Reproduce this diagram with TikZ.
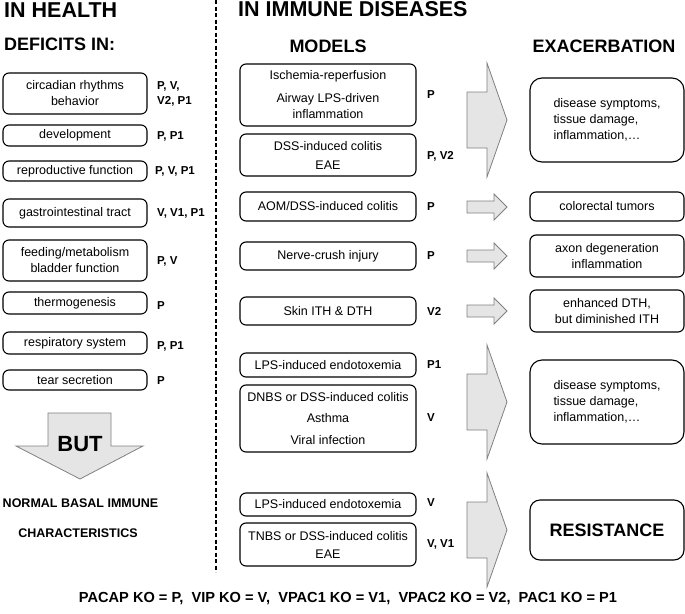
\documentclass[tikz,border=0pt]{standalone}
\usepackage{fontspec}
\setmainfont{Liberation Sans}
\usepackage{tikz}

\begin{document}
\begin{tikzpicture}[x=1pt,y=-1pt,
  txt/.style={font=\fontsize{12.5}{16}\selectfont,align=center},
  card/.style={txt,draw,line width=1.1pt,rounded corners=6pt,inner sep=0pt},
  leftbox/.style={card,minimum width=144pt},
  midbox/.style={card,minimum width=176pt},
  resbox/.style={card,minimum width=154pt},
  ko/.style={font=\fontsize{11.5}{15}\selectfont\bfseries,anchor=west,align=left,inner sep=0pt},
  title/.style={font=\fontsize{21.5}{25}\selectfont\bfseries,inner sep=0pt},
  subtitle/.style={font=\fontsize{18}{22}\selectfont\bfseries,inner sep=0pt},
  blockarrow/.style={fill=black!10,draw=black!50,line width=0.8pt,line join=miter}]
\useasboundingbox (0,0) rectangle (685,613);

% headings
\node[title,anchor=west] (health) at (4,10) {IN HEALTH};
\node[subtitle,anchor=west] (deficits) at (4,44) {DEFICITS IN:};
\node[title,anchor=west] (immune) at (238,9) {IN IMMUNE DISEASES};
\node[subtitle] (models) at (328,46) {MODELS};
\node[subtitle] (exacer) at (604,46) {EXACERBATION};
\draw[line width=1.2pt,dash pattern=on 4pt off 2.5pt] (216,0) -- (216,572);

% deficits in health
\node[leftbox,minimum height=41pt] (circ) at (75,93.5) {circadian rhythms\\behavior};
\node[leftbox,minimum height=21pt] (devel) at (75,135.5) {development};
\node[leftbox,minimum height=20pt] (repro) at (75,171) {reproductive function};
\node[leftbox,minimum height=28pt] (gastro) at (75,213) {gastrointestinal tract};
\node[leftbox,minimum height=41pt] (feed) at (75,260.5) {feeding/metabolism\\bladder function};
\node[leftbox,minimum height=22pt] (thermo) at (75,303) {thermogenesis};
\node[leftbox,minimum height=22pt] (resp) at (75,343) {respiratory system};
\node[leftbox,minimum height=20pt] (tear) at (75,380) {tear secretion};
\node[ko] (kcirc) at (157,94) {P, V,\\V2, P1};
\node[ko] (kdevel) at (157,136) {P, P1};
\node[ko] (krepro) at (155,171) {P, V, P1};
\node[ko] (kgastro) at (157,213) {V, V1, P1};
\node[ko] (kfeed) at (157,261) {P, V};
\node[ko] (kthermo) at (157,306) {P};
\node[ko] (kresp) at (157,346) {P, P1};
\node[ko] (ktear) at (157,381) {P};

% but
\filldraw[blockarrow] (48,413) -- (111,413) -- (111,446) -- (143,446) -- (80,479)
  -- (16,446) -- (48,446) -- cycle;
\node[font=\fontsize{22}{26}\selectfont\bfseries] (but) at (80,444) {BUT};
\node[font=\fontsize{12.5}{16}\selectfont\bfseries] (normal) at (80.5,503) {NORMAL BASAL IMMUNE};
\node[font=\fontsize{12.5}{16}\selectfont\bfseries] (charac) at (78,533) {CHARACTERISTICS};

% models
\node[midbox,minimum height=62pt] (isch) at (328,95) {Ischemia-reperfusion\\[7pt]Airway LPS-driven\\inflammation};
\node[midbox,minimum height=42pt] (dss) at (328,155) {DSS-induced colitis\\[3pt]EAE};
\node[midbox,minimum height=29pt] (aom) at (328,206.5) {AOM/DSS-induced colitis};
\node[midbox,minimum height=28pt] (nerve) at (328,256) {Nerve-crush injury};
\node[midbox,minimum height=28pt] (skin) at (328,311) {Skin ITH \& DTH};
\node[midbox,minimum height=24pt] (lpsa) at (328,365) {LPS-induced endotoxemia};
\node[midbox,minimum height=67pt] (dnbs) at (328,418.5) {DNBS or DSS-induced colitis\\[5.5pt]Asthma\\[5.5pt]Viral infection};
\node[midbox,minimum height=23pt] (lpsb) at (328,504.5) {LPS-induced endotoxemia};
\node[midbox,minimum height=43pt] (tnbs) at (328,544.5) {TNBS or DSS-induced colitis\\[2pt]EAE};
\node[ko] (kisch) at (427,95) {P};
\node[ko] (kdss) at (427,156) {P, V2};
\node[ko] (kaom) at (427,207) {P};
\node[ko] (knerve) at (427,256) {P};
\node[ko] (kskin) at (427,311) {V2};
\node[ko] (klpsa) at (427,365) {P1};
\node[ko] (kdnbs) at (427,418) {V};
\node[ko] (klpsb) at (427,503) {V};
\node[ko] (ktnbs) at (427,544) {V, V1};

% arrows
\foreach \yc in {120,402,530}
  \filldraw[blockarrow] (467,\yc-28) -- (487,\yc-28) -- (487,\yc-57) -- (507,\yc)
    -- (487,\yc+57) -- (487,\yc+28) -- (467,\yc+28) -- cycle;
\foreach \yc in {207,256,311}
  \filldraw[blockarrow] (467,\yc-6) -- (494,\yc-6) -- (494,\yc-13) -- (507,\yc)
    -- (494,\yc+13) -- (494,\yc+6) -- (467,\yc+6) -- cycle;

% outcomes
\node[resbox,rounded corners=12pt,minimum height=84pt,align=left] (sympa) at (607,120) {disease symptoms,\\tissue damage,\\inflammation,\ldots};
\node[resbox,minimum height=29pt] (tumor) at (607,206.5) {colorectal tumors};
\node[resbox,minimum height=42pt] (axon) at (607,256) {axon degeneration\\inflammation};
\node[resbox,minimum height=42pt] (dth) at (607,311) {enhanced DTH,\\but diminished ITH};
\node[resbox,rounded corners=12pt,minimum height=84pt,align=left] (sympb) at (607,402) {disease symptoms,\\tissue damage,\\inflammation,\ldots};
\node[resbox,rounded corners=10pt,minimum height=60pt,font=\fontsize{18}{22}\selectfont\bfseries] (resist) at (607,530) {RESISTANCE};

% legend
\node[font=\fontsize{14.6}{17}\selectfont\bfseries] (legend) at (348,599)
  {PACAP KO = P,\ \ VIP KO = V,\ \ VPAC1 KO = V1,\ \ VPAC2 KO = V2,\ \ PAC1 KO = P1};
\end{tikzpicture}
\end{document}
